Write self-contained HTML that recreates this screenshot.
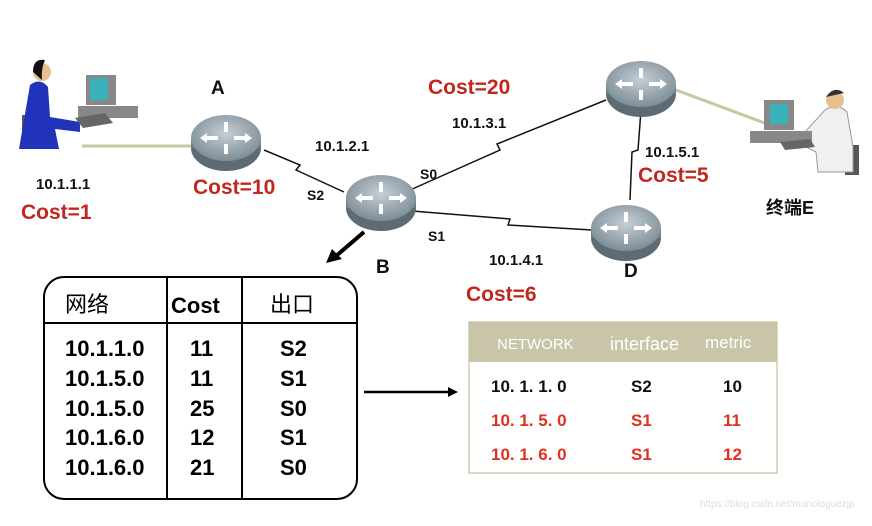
<!DOCTYPE html>
<html><head><meta charset="utf-8"><style>
body{margin:0;background:#fff;width:872px;height:521px;overflow:hidden}
svg text{font-family:"Liberation Sans","Noto Sans CJK SC",sans-serif;font-weight:bold}
svg text.n{font-weight:normal}
</style></head><body>
<svg width="872" height="521" viewBox="0 0 872 521">
<defs>
<radialGradient id="rg" cx="50%" cy="40%" r="60%"><stop offset="0" stop-color="#c5cfd6"/><stop offset="1" stop-color="#7d8c96"/></radialGradient>
<g id="router">
<ellipse cx="0" cy="8" rx="35" ry="23" fill="#5d6b74"/>
<rect x="-35" y="-2" width="70" height="10" fill="#6f7e88"/>
<ellipse cx="0" cy="-2" rx="35" ry="23" fill="url(#rg)"/>
<path d="M-22 -2 h14 M22 -2 h-14 M0 -18 v10 M0 14 v-10" stroke="#fff" stroke-width="4"/>
<path d="M-26 -2 l7 -5 v10z M26 -2 l-7 -5 v10z" fill="#fff"/>
</g>
</defs>
<line x1="82" y1="146" x2="192" y2="146" stroke="#c9c6a0" stroke-width="3"/>
<line x1="676" y1="90" x2="770" y2="125" stroke="#c9c6a0" stroke-width="3"/>
<polyline points="264,150 300,165 296,170 344,192" fill="none" stroke="#111" stroke-width="1.5"/>
<polyline points="410,190 500,150 497,144 606,100" fill="none" stroke="#111" stroke-width="1.5"/>
<polyline points="412,211 510,219 508,225 592,230" fill="none" stroke="#111" stroke-width="1.5"/>
<polyline points="641,110 638,150 632,152 630,200" fill="none" stroke="#111" stroke-width="1.5"/>
<line x1="364" y1="232" x2="336" y2="256" stroke="#000" stroke-width="4"/>
<path d="M326 263 l6 -14 l10 10z" fill="#000"/>
<use href="#router" x="226" y="140"/>
<use href="#router" x="381" y="200"/>
<use href="#router" x="641" y="86"/>
<use href="#router" x="626" y="230"/>
<g>
<rect x="22" y="115" width="14" height="30" fill="#555"/>
<path d="M30 85 q10 -8 18 2 l2 30 l30 5 v10 l-25 -3 l4 20 l-40 0 z" fill="#2233bb"/>
<circle cx="42" cy="72" r="9" fill="#e8c090"/>
<path d="M33 72 q0 -14 12 -12 q-4 8 -3 20 z" fill="#111"/>
<rect x="86" y="75" width="30" height="30" fill="#888"/><rect x="90" y="78" width="18" height="22" fill="#3ab0b8"/>
<rect x="78" y="106" width="60" height="12" fill="#888"/>
<path d="M75 118 l30 -5 l8 10 l-30 5z" fill="#666"/>
</g>
<g>
<rect x="845" y="145" width="14" height="30" fill="#555"/>
<path d="M825 110 q12 -8 22 2 l6 35 l0 25 l-35 0 l-2 -20 l-20 -10 z" fill="#f0f0f0" stroke="#999"/>
<circle cx="835" cy="100" r="9" fill="#e8c090"/>
<path d="M826 97 q8 -12 18 -4 z" fill="#333"/>
<rect x="764" y="100" width="30" height="30" fill="#888"/><rect x="770" y="104" width="18" height="20" fill="#3ab0b8"/>
<rect x="750" y="131" width="62" height="12" fill="#888"/>
<path d="M780 142 l30 -3 l5 8 l-30 3z" fill="#666"/>
</g>
<g font-size="15" fill="#111">
<text x="211" y="94" font-size="19">A</text>
<text x="315" y="151">10.1.2.1</text>
<text x="36" y="189">10.1.1.1</text>
<text x="307" y="200" font-size="14">S2</text>
<text x="420" y="179" font-size="14">S0</text>
<text x="428" y="241" font-size="14">S1</text>
<text x="376" y="273" font-size="19">B</text>
<text x="452" y="128">10.1.3.1</text>
<text x="645" y="157">10.1.5.1</text>
<text x="489" y="265">10.1.4.1</text>
<text x="624" y="277" font-size="19">D</text>
<text x="766" y="214" font-size="18">终端E</text>
</g>
<g font-size="21" fill="#c0281e">
<text x="21" y="219">Cost=1</text>
<text x="193" y="194">Cost=10</text>
<text x="428" y="94">Cost=20</text>
<text x="638" y="182">Cost=5</text>
<text x="466" y="301">Cost=6</text>
</g>
<rect x="44" y="277" width="313" height="222" rx="20" fill="none" stroke="#000" stroke-width="2"/>
<line x1="44" y1="323" x2="357" y2="323" stroke="#000" stroke-width="2"/>
<line x1="167" y1="277" x2="167" y2="499" stroke="#000" stroke-width="2"/>
<line x1="242" y1="277" x2="242" y2="499" stroke="#000" stroke-width="2"/>
<g font-size="22" fill="#000">
<text class="n" x="65" y="312">网络</text>
<text x="171" y="313">Cost</text>
<text class="n" x="270" y="312">出口</text>
<text x="65" y="356">10.1.1.0</text><text x="190" y="356">11</text><text x="280" y="356">S2</text>
<text x="65" y="386">10.1.5.0</text><text x="190" y="386">11</text><text x="280" y="386">S1</text>
<text x="65" y="416">10.1.5.0</text><text x="190" y="416">25</text><text x="280" y="416">S0</text>
<text x="65" y="445">10.1.6.0</text><text x="190" y="445">12</text><text x="280" y="445">S1</text>
<text x="65" y="475">10.1.6.0</text><text x="190" y="475">21</text><text x="280" y="475">S0</text>
</g>
<line x1="364" y1="392" x2="450" y2="392" stroke="#000" stroke-width="2.5"/>
<path d="M458 392 l-10 -5 v10z" fill="#000"/>
<rect x="469" y="322" width="308" height="151" fill="#fff" stroke="#cfccb4" stroke-width="1.5"/>
<rect x="469" y="322" width="308" height="40" fill="#c8c5a8"/>
<g fill="#fff">
<text class="n" x="497" y="349" font-size="15">NETWORK</text>
<text class="n" x="610" y="350" font-size="18">interface</text>
<text class="n" x="705" y="348" font-size="17">metric</text>
</g>
<g font-size="17">
<text x="491" y="392" fill="#111">10. 1. 1. 0</text><text x="631" y="392" fill="#111">S2</text><text x="723" y="392" fill="#111">10</text>
<text x="491" y="426" fill="#e0301e">10. 1. 5. 0</text><text x="631" y="426" fill="#e0301e">S1</text><text x="723" y="426" fill="#e0301e">11</text>
<text x="491" y="460" fill="#e0301e">10. 1. 6. 0</text><text x="631" y="460" fill="#e0301e">S1</text><text x="723" y="460" fill="#e0301e">12</text>
</g>
<text class="n" x="700" y="507" font-size="10" fill="#ddd">https://blog.csdn.net/monologuezjp</text>
</svg>
</body></html>
